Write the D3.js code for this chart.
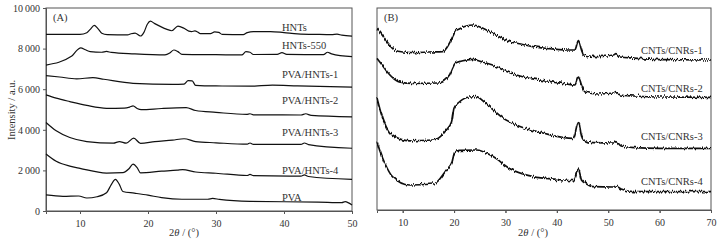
<!DOCTYPE html>
<html>
<head>
<meta charset="utf-8">
<script src="https://cdn.jsdelivr.net/npm/d3@7"></script>
<style>
  body { margin: 0; background: #fff; }
  svg text { font-family: "Liberation Serif", "DejaVu Serif", serif; fill: #333; }
</style>
</head>
<body>
<svg id="my_svg"></svg>
<script>
const width = 721;
const height = 243;

// ---- data (A): 2θ vs intensity ----
const hnts = [[5, 8700], [10, 8700], [11, 8780], [11.5, 8950], [12.1, 9140], [12.6, 9000], [13.2, 8760], [14, 8690], [17, 8680], [17.5, 8730], [18.1, 8760], [18.9, 8620], [19.4, 8800], [19.9, 9200], [20.35, 9350], [21, 9230], [22.7, 8960], [23.5, 8880], [24.4, 9110], [25.3, 9000], [26, 8860], [26.4, 8840], [26.9, 8870], [27.3, 8820], [27.7, 8740], [29.2, 8740], [29.8, 8820], [30.4, 8800], [30.9, 8700], [34, 8690], [34.6, 8790], [35.5, 8840], [38, 8840], [40, 8790], [42, 8730], [45, 8700], [47, 8690], [47.8, 8710], [48.5, 8660], [50, 8610]];
const hnts550 = [[5, 7190], [8.8, 7630], [9.5, 7900], [10.1, 8040], [10.8, 7940], [11.5, 7850], [13.2, 7820], [13.9, 7860], [14.6, 7810], [18, 7740], [22.5, 7690], [23.2, 7780], [23.8, 7930], [24.4, 7850], [25, 7720], [30, 7700], [33.8, 7690], [34.4, 7850], [35, 7820], [35.5, 7710], [39, 7720], [39.7, 7800], [40.4, 7720], [45.8, 7700], [46.4, 7820], [47, 7740], [50, 7600]];
const pvaHnts1 = [[5, 6670], [7, 6600], [9.5, 6510], [11.9, 6570], [13.5, 6490], [17.8, 6290], [23.6, 6240], [25.3, 6250], [25.9, 6420], [26.5, 6410], [27, 6190], [30, 6160], [35, 6150], [38.3, 6200], [42, 6160], [50, 6100]];
const pvaHnts2 = [[5, 5720], [6.5, 5560], [8.5, 5390], [11, 5200], [13.9, 5060], [16.5, 5070], [17.3, 5120], [17.8, 5180], [18.4, 5050], [19, 4990], [22, 5050], [25.6, 5090], [27, 4950], [30, 4860], [34.5, 4760], [35, 4790], [35.5, 4740], [42.5, 4730], [43.2, 4790], [44, 4710], [50, 4640]];
const pvaHnts3 = [[5, 4360], [6.5, 3950], [8.5, 3620], [11, 3420], [14.9, 3340], [15.8, 3420], [16.8, 3340], [17.9, 3590], [18.9, 3330], [21, 3420], [23.6, 3490], [25.3, 3560], [27, 3420], [30, 3360], [34.6, 3290], [35, 3350], [35.5, 3280], [42.5, 3280], [43, 3350], [43.6, 3270], [50, 3090]];
const pvaHnts4 = [[5, 2810], [6.5, 2450], [8.5, 2210], [10, 2100], [13.9, 1870], [16.3, 1890], [17.2, 2080], [17.8, 2310], [18.4, 2140], [18.9, 1880], [22, 1960], [24.3, 2010], [25.1, 2040], [27, 1920], [30, 1860], [34.6, 1750], [35, 1800], [35.5, 1740], [42.5, 1720], [43, 1780], [43.6, 1700], [50, 1560]];
const pva = [[5, 790], [7.5, 720], [9.8, 740], [11, 640], [12.5, 700], [13.9, 900], [14.6, 1300], [15.2, 1560], [15.8, 1300], [16.3, 960], [18, 880], [20, 780], [22, 660], [25, 580], [28.8, 580], [29.5, 620], [30.5, 570], [35, 470], [45, 440], [48.5, 410], [49, 460], [49.5, 400], [50, 300]];

const seriesA = [hnts, hnts550, pvaHnts1, pvaHnts2, pvaHnts3, pvaHnts4, pva];
const namesA = ['HNTs', 'HNTs-550', 'PVA/HNTs-1', 'PVA/HNTs-2', 'PVA/HNTs-3', 'PVA/HNTs-4', 'PVA'];
const labelYA = [8870, 8000, 6570, 5260, 3670, 1800, 505];
const yTicksA = [0, 2000, 4000, 6000, 8000, 10000];
const xTicksA = [10, 20, 30, 40, 50];

// ---- data (B): noisy diffraction, intensity in a.u. ----
const cnr1 = [[5, 908], [6, 875], [7, 840], [8.4, 800], [10, 790], [12.6, 787], [15, 790], [17.8, 792], [19.1, 834], [19.8, 870], [20.2, 892], [21, 905], [23.7, 925], [25.5, 910], [26.9, 892], [28.5, 870], [30.8, 842], [33, 830], [35.3, 817], [38, 808], [41.9, 800], [43.5, 800], [44.2, 847], [44.8, 800], [45.2, 775], [48, 767], [51, 775], [51.5, 782], [52.3, 765], [55, 759], [60, 752], [70, 750]];
const cnr2 = [[5, 758], [6, 725], [7, 690], [9.3, 641], [12, 633], [17, 635], [19.1, 675], [19.8, 715], [20.2, 733], [21.5, 745], [23.6, 753], [25.5, 740], [27.5, 725], [30, 695], [32.1, 675], [35, 657], [38, 645], [41.9, 630], [43.5, 625], [44.2, 665], [44.8, 625], [45.5, 590], [48, 580], [51, 585], [51.5, 592], [52.3, 575], [55, 570], [60, 565], [70, 563]];
const cnr3 = [[5, 560], [5.8, 483], [8, 375], [11.3, 346], [16, 350], [18.5, 400], [19.5, 440], [20, 510], [21, 540], [23, 565], [24.3, 567], [26.3, 530], [29.5, 460], [32.1, 425], [37.3, 385], [43.2, 358], [44.2, 442], [44.8, 370], [45.2, 350], [47, 337], [51, 335], [51.5, 342], [52.5, 320], [55, 312], [60, 308], [70, 308]];
const cnr4 = [[5, 342], [5.5, 300], [6.5, 235], [8, 167], [11.3, 125], [16, 130], [18.5, 200], [19.6, 240], [20.1, 287], [21, 298], [24.3, 300], [27.6, 267], [30.8, 208], [35.4, 167], [40, 153], [43.2, 147], [44.2, 204], [44.8, 150], [45.5, 135], [47, 117], [51, 115], [51.5, 120], [52.5, 105], [55, 92], [70, 92]];

const seriesB = [cnr1, cnr2, cnr3, cnr4];
const namesB = ['CNTs/CNRs-1', 'CNTs/CNRs-2', 'CNTs/CNRs-3', 'CNTs/CNRs-4'];
const labelYB = [780, 590, 350, 125];
const xTicksB = [10, 20, 30, 40, 50, 60, 70];

const svg = d3.select('#my_svg')
  .attr('width', width)
  .attr('height', height);

// jagged texture for the noisy traces of panel B (vertical shift only)
const defs = svg.append('defs');
const filt = defs.append('filter')
  .attr('id', 'rough')
  .attr('x', '-5%').attr('y', '-20%')
  .attr('width', '110%').attr('height', '140%');
filt.append('feTurbulence')
  .attr('type', 'fractalNoise')
  .attr('baseFrequency', '0.9 0.08')
  .attr('numOctaves', 2)
  .attr('seed', 3)
  .attr('result', 'noise');
filt.append('feColorMatrix')
  .attr('in', 'noise')
  .attr('type', 'matrix')
  .attr('values', '0 0 0 0 0.5  0 1 0 0 0  0 0 1 0 0  0 0 0 0 1')
  .attr('result', 'vnoise');
filt.append('feDisplacementMap')
  .attr('in', 'SourceGraphic')
  .attr('in2', 'vnoise')
  .attr('scale', 5)
  .attr('xChannelSelector', 'R')
  .attr('yChannelSelector', 'G');

function drawPanel(opts) {
  const x = d3.scaleLinear().domain(opts.xDomain).range([opts.left, opts.right]);
  const y = d3.scaleLinear().domain(opts.yDomain).range([opts.bottom, opts.top]);
  const g = svg.append('g');

  // frame
  g.append('rect')
    .attr('x', opts.left)
    .attr('y', opts.top)
    .attr('width', opts.right - opts.left)
    .attr('height', opts.bottom - opts.top)
    .attr('fill', 'none')
    .attr('stroke', '#555')
    .attr('stroke-width', 1);

  // bottom axis: majors every 10, minors every 5
  const xAxis = d3.axisBottom(x)
    .tickValues(opts.xTicks)
    .tickSize(3)
    .tickFormat(d3.format('d'));
  const xa = g.append('g')
    .attr('transform', `translate(0, ${opts.bottom})`)
    .call(xAxis);
  xa.select('.domain').attr('stroke', '#555');
  xa.selectAll('.tick line').attr('stroke', '#555');
  xa.selectAll('text').attr('font-size', 10).attr('dy', '0.95em').attr('fill', '#333');
  const minors = d3.range(opts.xDomain[0] + 5, opts.xDomain[1], 10);
  g.append('g')
    .attr('transform', `translate(0, ${opts.bottom})`)
    .call(d3.axisBottom(x).tickValues(minors).tickSize(3).tickFormat(''))
    .call(s => s.select('.domain').remove())
    .selectAll('line').attr('stroke', '#555');

  if (opts.yTicks) {
    const ya = g.append('g')
      .attr('transform', `translate(${opts.left}, 0)`)
      .call(d3.axisLeft(y).tickValues(opts.yTicks).tickSize(3)
        .tickFormat(d => d3.format(',')(d).replace(',', '\u2009')));
    ya.select('.domain').attr('stroke', '#555');
    ya.selectAll('.tick line').attr('stroke', '#555');
    ya.selectAll('text').attr('font-size', 10).attr('fill', '#333');
  }

  const line = d3.line()
    .x(d => x(d[0]))
    .y(d => y(d[1]))
    .curve(d3.curveMonotoneX);

  g.selectAll('path.trace')
    .data(opts.series)
    .enter()
    .append('path')
    .attr('class', 'trace')
    .attr('d', line)
    .attr('fill', 'none')
    .attr('stroke', '#111')
    .attr('stroke-width', opts.rough ? 1.7 : 1.2)
    .attr('filter', opts.rough ? 'url(#rough)' : null);

  g.selectAll('text.name')
    .data(opts.names)
    .enter()
    .append('text')
    .attr('class', 'name')
    .attr('x', opts.labelX)
    .attr('y', (d, i) => y(opts.labelY[i]))
    .attr('font-size', 10.5)
    .text(d => d);

  g.append('text')
    .attr('x', opts.left + 7)
    .attr('y', opts.top + 13)
    .attr('font-size', 10.5)
    .text(opts.tag);

  // 横坐标标题 2θ / (°)
  const t = g.append('text')
    .attr('x', opts.titleX)
    .attr('y', 236)
    .attr('text-anchor', 'middle')
    .attr('font-size', 10.5);
  t.append('tspan').text('2');
  t.append('tspan').attr('font-style', 'italic').text('\u03b8');
  t.append('tspan').text(' / (\u00b0)');
  return g;
}

drawPanel({
  left: 46, right: 352, top: 8, bottom: 211,
  xDomain: [5, 50], yDomain: [0, 10000],
  xTicks: xTicksA, yTicks: yTicksA,
  series: seriesA, names: namesA, labelY: labelYA, labelX: 282,
  tag: '(A)', titleX: 184, rough: false
});

drawPanel({
  left: 377, right: 711, top: 8, bottom: 210,
  xDomain: [5, 70], yDomain: [0, 1010],
  xTicks: xTicksB, yTicks: null,
  series: seriesB, names: namesB, labelY: labelYB, labelX: 641,
  tag: '(B)', titleX: 533, rough: true
});

// 纵坐标标题
svg.append('text')
  .attr('transform', 'translate(15, 110) rotate(-90)')
  .attr('text-anchor', 'middle')
  .attr('font-size', 10.5)
  .text('Intensity / a.u.');
</script>
</body>
</html>
